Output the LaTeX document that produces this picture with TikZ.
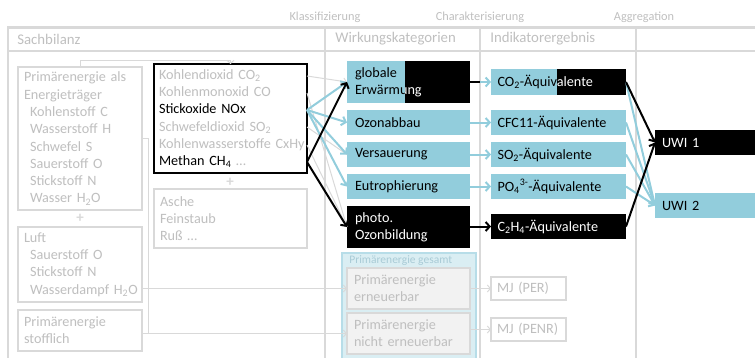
\documentclass[tikz,border=0pt]{standalone}
\usepackage{fontspec}
\setmainfont{Carlito}
\usetikzlibrary{arrows.meta,calc}
\definecolor{lgray}{HTML}{D9D9D9}
\definecolor{tgray}{HTML}{BFBFBF}
\definecolor{aqua}{HTML}{92CDDC}
\definecolor{paleaqua}{HTML}{DAEEF3}
\definecolor{edgeaqua}{HTML}{B7DDE8}
\definecolor{labelaqua}{HTML}{A9CBD6}
\definecolor{cellgray}{HTML}{F2F2F2}

\begin{document}
\begin{tikzpicture}[x=1pt,y=-1pt,
  every node/.style={font=\fontsize{14.2}{17.3}\selectfont, inner ysep=0pt, outer sep=0pt},
  gbox/.style={draw=lgray, line width=2pt, text=tgray, fill=white, anchor=north west, align=left, inner xsep=6pt},
  kbox/.style={draw=black, line width=1.5pt, text=black, fill=white, anchor=north west, align=left, inner xsep=5pt},
  abox/.style={fill=aqua, text=black, anchor=north west, align=left, inner xsep=8pt},
  bbox/.style={fill=black, text=white, anchor=north west, align=left, inner xsep=8pt},
  cellbox/.style={fill=cellgray, draw=lgray, line width=2pt, text=tgray, anchor=north west, align=left, inner xsep=7pt},
  hdr/.style={text=tgray, anchor=west, font=\fontsize{14.8}{17}\selectfont},
  stage/.style={text=tgray, font=\fontsize{12.3}{14}\selectfont},
  plus/.style={text=lgray, font=\fontsize{15}{15}\bfseries\selectfont},
  grid/.style={draw=lgray},
  gline/.style={draw=lgray, line width=1pt},
  garrow/.style={gline, -{Straight Barb[length=3pt,width=7pt]}},
  barrow/.style={draw=aqua, line width=2pt, -{Straight Barb[length=4pt,width=9pt]}},
  karrow/.style={draw=black, line width=2pt, -{Straight Barb[length=4pt,width=9pt]}},
]
\useasboundingbox (0,0) rectangle (755,357);

% table frame
\draw[grid, line width=3pt] (8,27) -- (760,27);
\draw[grid, line width=1.5pt] (8,51) -- (760,51);
\draw[grid, line width=2pt] (8,26) -- (8,360);
\foreach \cx in {325,480,636} \draw[grid, line width=1.5pt] (\cx,27) -- (\cx,360);

% stage labels and column headers
\node[stage] (s1) at (325,17) {Klassifizierung};
\node[stage] (s2) at (480,17) {Charakterisierung};
\node[stage] (s3) at (644,17) {Aggregation};
\node[hdr] (h1) at (14,39) {Sachbilanz};
\node[hdr] (h2) at (332,39) {Wirkungskategorien};
\node[hdr] (h3) at (487,39) {Indikatorergebnis};

% inventory
\node[gbox, minimum width=124pt, text width=112pt, minimum height=143pt] (A) at (18,67)
  {Primärenergie als\\Energieträger\\\hspace*{6pt}Kohlenstoff C\\\hspace*{6pt}Wasserstoff H\\\hspace*{6pt}Schwefel S\\\hspace*{6pt}Sauerstoff O\\\hspace*{6pt}Stickstoff N\\\hspace*{6pt}Wasser H\textsubscript{2}O};
\node[plus] (p1) at (80,218) {+};
\node[gbox, minimum width=124pt, text width=112pt, minimum height=75pt] (B) at (18,227)
  {Luft\\\hspace*{6pt}Sauerstoff O\\\hspace*{6pt}Stickstoff N\\\hspace*{6pt}\mbox{Wasserdampf H\textsubscript{2}O}};
\node[gbox, minimum width=124pt, text width=112pt, minimum height=41pt] (C) at (18,310)
  {Primärenergie\\stofflich};
\node[kbox, minimum width=153pt, text width=143pt, minimum height=109pt] (D) at (154,64)
  {\textcolor{tgray}{Kohlendioxid CO\textsubscript{2}}\\%
   \textcolor{tgray}{Kohlenmonoxid CO}\\%
   Stickoxide NOx\\%
   \textcolor{tgray}{Schwefeldioxid SO\textsubscript{2}}\\%
   \textcolor{tgray}{\mbox{Kohlenwasserstoffe CxHy}}\\%
   Methan CH\textsubscript{4} \textcolor{tgray}{\ldots}};
\node[plus] (p2) at (230,182) {+};
\node[gbox, minimum width=153pt, text width=141pt, minimum height=59pt] (E) at (154,189)
  {Asche\\Feinstaub\\Ruß \ldots};

% impact categories
\node[abox, minimum width=123pt, text width=107pt, minimum height=42pt] (GE) at (347,61) {globale\\Erwärmung};
\fill[black] (405,61) rectangle (GE.south east);
\begin{scope}
  \clip (405,61) rectangle (GE.south east);
  \node[abox, fill=none, text=white, anchor=center, minimum width=123pt, text width=107pt, minimum height=42pt] (GEw) at (GE.center) {globale\\Erwärmung};
\end{scope}
\node[abox, minimum width=123pt, text width=107pt, minimum height=25pt] (OA) at (347,110) {Ozonabbau};
\node[abox, minimum width=123pt, text width=107pt, minimum height=25pt] (VS) at (347,142) {Versauerung};
\node[abox, minimum width=123pt, text width=107pt, minimum height=25pt] (EU) at (347,174) {Eutrophierung};
\node[bbox, minimum width=123pt, text width=107pt, minimum height=42pt] (PO) at (347,206) {photo.\\Ozonbildung};

% primary energy
\node[draw=edgeaqua, fill=paleaqua, line width=2pt, anchor=north west, minimum width=134pt, minimum height=110pt] (PG) at (342,253) {};
\node[anchor=west, text=labelaqua, font=\fontsize{11.5}{12}\selectfont] (PGl) at (346,261) {Primärenergie gesamt};
\node[cellbox, minimum width=123pt, text width=109pt, minimum height=41pt] (PER) at (347,268) {Primärenergie\\erneuerbar};
\node[cellbox, minimum width=123pt, text width=109pt, minimum height=41pt] (PNE) at (347,313) {Primärenergie\\nicht erneuerbar};

% indicator results
\node[abox, minimum width=135pt, text width=122pt, inner xsep=6.5pt, minimum height=26pt] (ICO) at (491,69) {CO\textsubscript{2}-Äquivalente};
\fill[black] (557,69) rectangle (ICO.south east);
\begin{scope}
  \clip (557,69) rectangle (ICO.south east);
  \node[abox, fill=none, text=white, anchor=center, minimum width=135pt, text width=122pt, inner xsep=6.5pt, minimum height=26pt] (ICOw) at (ICO.center) {CO\textsubscript{2}-Äquivalente};
\end{scope}
\node[abox, minimum width=135pt, text width=122pt, inner xsep=6.5pt, minimum height=25pt] (ICF) at (491,110) {CFC11-Äquivalente};
\node[abox, minimum width=135pt, text width=122pt, inner xsep=6.5pt, minimum height=25pt] (ISO) at (491,142) {SO\textsubscript{2}-Äquivalente};
\node[abox, minimum width=135pt, text width=122pt, inner xsep=6.5pt, minimum height=25pt] (IPO) at (491,174) {PO\textsubscript{4}\textsuperscript{3-}-Äquivalente};
\node[bbox, minimum width=135pt, text width=122pt, inner xsep=6.5pt, minimum height=25pt] (ICH) at (491,214) {C\textsubscript{2}H\textsubscript{4}-Äquivalente};
\node[gbox, minimum width=75pt, text width=63pt, minimum height=23pt] (MJ1) at (491,277) {MJ (PER)};
\node[gbox, minimum width=75pt, text width=63pt, minimum height=23pt] (MJ2) at (491,318) {MJ (PENR)};

% aggregated indicators
\node[bbox, minimum width=110pt, text width=96pt, inner xsep=7pt, minimum height=25pt] (U1) at (655,130) {UWI 1};
\node[abox, minimum width=110pt, text width=96pt, inner xsep=7pt, minimum height=25pt] (U2) at (655,193) {UWI 2};

% inventory flows
\draw[garrow] (A.north) -- ++(0,-6.5) -| (D.north);
\draw[gline] (A.east) -- ++(6,0) |- (PNE.west);
\draw[garrow] (B.east |- PER.west) -- (PER.west);
\draw[garrow] (C.east |- PNE.west) -- (PNE.west);
\draw[garrow] (PER.east) -- (MJ1.west);
\draw[garrow] (PNE.east |- MJ2.west) -- (MJ2.west);

% classification
\coordinate (dCO2) at ($(D.north east)+(0,12)$);
\coordinate (dCO)  at ($(D.north east)+(0,29)$);
\coordinate (dNOx) at ($(D.north east)+(0,46)$);
\coordinate (dSO2) at ($(D.north east)+(0,63)$);
\coordinate (dCH)  at ($(D.north east)+(0,81)$);
\coordinate (dCH4) at ($(D.north east)+(0,98)$);
\draw[garrow] (dCO2) -- (GE.west);
\draw[gline] (dCO) -- (PO.west);
\draw[gline] (dSO2) -- (VS.west);
\draw[gline] (dCH) -- (PO.west);
\foreach \t in {GE,OA,VS,EU} \draw[barrow] (dNOx) -- (\t.west);
\draw[karrow] (dCH4) -- (GE.west);
\draw[karrow] (dCH4) -- (PO.west);

% characterisation
\draw[barrow] (GE.east) -- (ICO.west);
\draw[draw=black, line width=2pt] (GE.east) -- ++(10,0);
\draw[barrow] (OA.east) -- (ICF.west);
\draw[barrow] (VS.east) -- (ISO.west);
\draw[barrow] (EU.east) -- (IPO.west);
\draw[karrow] (PO.east |- ICH.west) -- (ICH.west);

% aggregation
\foreach \s in {ICO,ICF,ISO,IPO} \draw[barrow] (\s.east) -- (U2.west);
\draw[karrow] (ICO.east) -- (U1.west);
\draw[karrow] (ICH.east) -- (U1.west);
\end{tikzpicture}
\end{document}
